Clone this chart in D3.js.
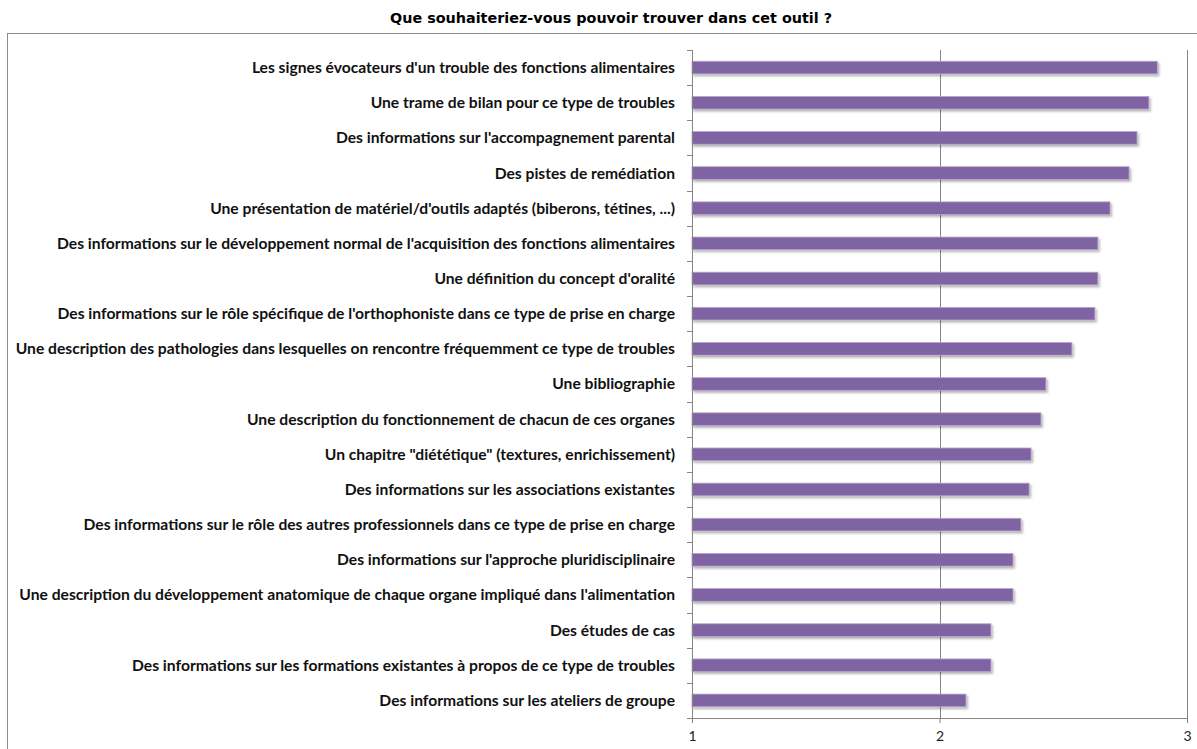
<!DOCTYPE html>
<html>
<head>
<meta charset="utf-8">
<script src="https://cdn.jsdelivr.net/npm/d3@7"></script>
<style>
  body { margin: 0; background: #fff; }
  svg { display: block; }
</style>
</head>
<body>
<svg id="chart" width="1197" height="749"></svg>
<script>
// categories top to bottom
const categories = [
  "Les signes évocateurs d'un trouble des fonctions alimentaires",
  "Une trame de bilan pour ce type de troubles",
  "Des informations sur l'accompagnement parental",
  "Des pistes de remédiation",
  "Une présentation de matériel/d'outils adaptés (biberons, tétines, ...)",
  "Des informations sur le développement normal de l'acquisition des fonctions alimentaires",
  "Une définition du concept d'oralité",
  "Des informations sur le rôle spécifique de l'orthophoniste dans ce type de prise en charge",
  "Une description des pathologies dans lesquelles on rencontre fréquemment ce type de troubles",
  "Une bibliographie",
  "Une description du fonctionnement de chacun de ces organes",
  "Un chapitre \"diététique\" (textures, enrichissement)",
  "Des informations sur les associations existantes",
  "Des informations sur le rôle des autres professionnels dans ce type de prise en charge ",
  "Des informations sur l'approche pluridisciplinaire",
  "Une description du développement anatomique de chaque organe impliqué dans l'alimentation",
  "Des études de cas",
  "Des informations sur les formations existantes à propos de ce type de troubles",
  "Des informations sur les ateliers de groupe"
];
const values = [2.88, 2.846, 2.798, 2.766, 2.689, 2.64, 2.64, 2.628, 2.535, 2.43,
                2.41, 2.37, 2.362, 2.329, 2.297, 2.297, 2.208, 2.208, 2.107];
const xTicks = [1, 2, 3];
const title = "Que souhaiteriez-vous pouvoir trouver dans cet outil ?";

const data = categories.map((c, i) => ({ name: c, value: values[i] }));

const svg = d3.select("#chart");
const plotLeft = 692, plotRight = 1187, plotTop = 50, plotBottom = 718;

// shadow filter for bars
const defs = svg.append("defs");
defs.append("filter").attr("id", "shadow")
  .attr("x", "-5%").attr("y", "-50%").attr("width", "110%").attr("height", "250%")
  .append("feDropShadow")
  .attr("dx", 1.5).attr("dy", 2).attr("stdDeviation", 1.2)
  .attr("flood-color", "#000").attr("flood-opacity", 0.3);

// chart frame
svg.append("rect")
  .attr("x", 7.5).attr("y", 33.5)
  .attr("width", 1200).attr("height", 740)
  .attr("fill", "none").attr("stroke", "#8c8c8c").attr("stroke-width", 1);

svg.append("text")
  .attr("x", 611).attr("y", 23)
  .attr("text-anchor", "middle")
  .attr("textLength", 442)
  .attr("lengthAdjust", "spacingAndGlyphs")
  .style("font-family", "DejaVu Sans, sans-serif")
  .style("font-weight", "bold")
  .style("font-size", "13.5px")
  .attr("fill", "#000")
  .text(title);

const x = d3.scaleLinear().domain([1, 3]).range([plotLeft, plotRight]);
const y = d3.scaleBand().domain(categories).range([plotTop, plotBottom]).paddingInner(0.64).paddingOuter(0.32);

// gridlines
svg.append("g")
  .selectAll("line")
  .data(xTicks.slice(1))
  .join("line")
  .attr("x1", d => Math.round(x(d)) + 0.5)
  .attr("x2", d => Math.round(x(d)) + 0.5)
  .attr("y1", plotTop)
  .attr("y2", plotBottom)
  .attr("stroke", "#868686");

// bars
svg.append("g")
  .selectAll("rect")
  .data(data)
  .join("rect")
  .attr("x", x(1))
  .attr("y", d => y(d.name))
  .attr("width", d => x(d.value) - x(1))
  .attr("height", y.bandwidth())
  .attr("fill", "#8064a2")
  .attr("stroke", "#b6a6cc")
  .attr("stroke-width", 0.8)
  .attr("filter", "url(#shadow)");

// x axis
const xAxis = svg.append("g")
  .attr("transform", `translate(0,${plotBottom})`)
  .call(d3.axisBottom(x).tickValues(xTicks).tickFormat(d3.format("d")).tickSize(5).tickPadding(8));
xAxis.select(".domain").attr("stroke", "#868686");
xAxis.selectAll(".tick line").attr("stroke", "#868686");
xAxis.selectAll("text")
  .style("font-family", "Lato, sans-serif")
  .style("font-size", "14px")
  .attr("fill", "#222");

// y axis line with ticks at band boundaries
const step = (plotBottom - plotTop) / categories.length;
const yAxis = svg.append("g");
yAxis.append("line")
  .attr("x1", plotLeft + 0.5).attr("x2", plotLeft + 0.5)
  .attr("y1", plotTop).attr("y2", plotBottom)
  .attr("stroke", "#868686");
yAxis.selectAll("line.tk")
  .data(d3.range(categories.length + 1))
  .join("line")
  .attr("class", "tk")
  .attr("x1", plotLeft - 5).attr("x2", plotLeft)
  .attr("y1", i => Math.round(plotTop + i * step) + 0.5)
  .attr("y2", i => Math.round(plotTop + i * step) + 0.5)
  .attr("stroke", "#868686");

// labels
const labels = svg.append("g")
  .selectAll("text")
  .data(data)
  .join("text")
  .attr("x", 675)
  .attr("y", d => y(d.name) + y.bandwidth() / 2)
  .attr("dy", "0.35em")
  .attr("text-anchor", "end")
  .style("font-family", "Lato, sans-serif")
  .style("font-weight", "bold")
  .style("font-size", "13px")
  .attr("fill", "#111")
  .text(d => d.name);

// fit longest label to ~660px like the original
let maxW = 0;
labels.each(function() { maxW = Math.max(maxW, this.getComputedTextLength()); });
const fs = 13 * 660 / maxW;
labels.style("font-size", fs + "px");
</script>
</body>
</html>
